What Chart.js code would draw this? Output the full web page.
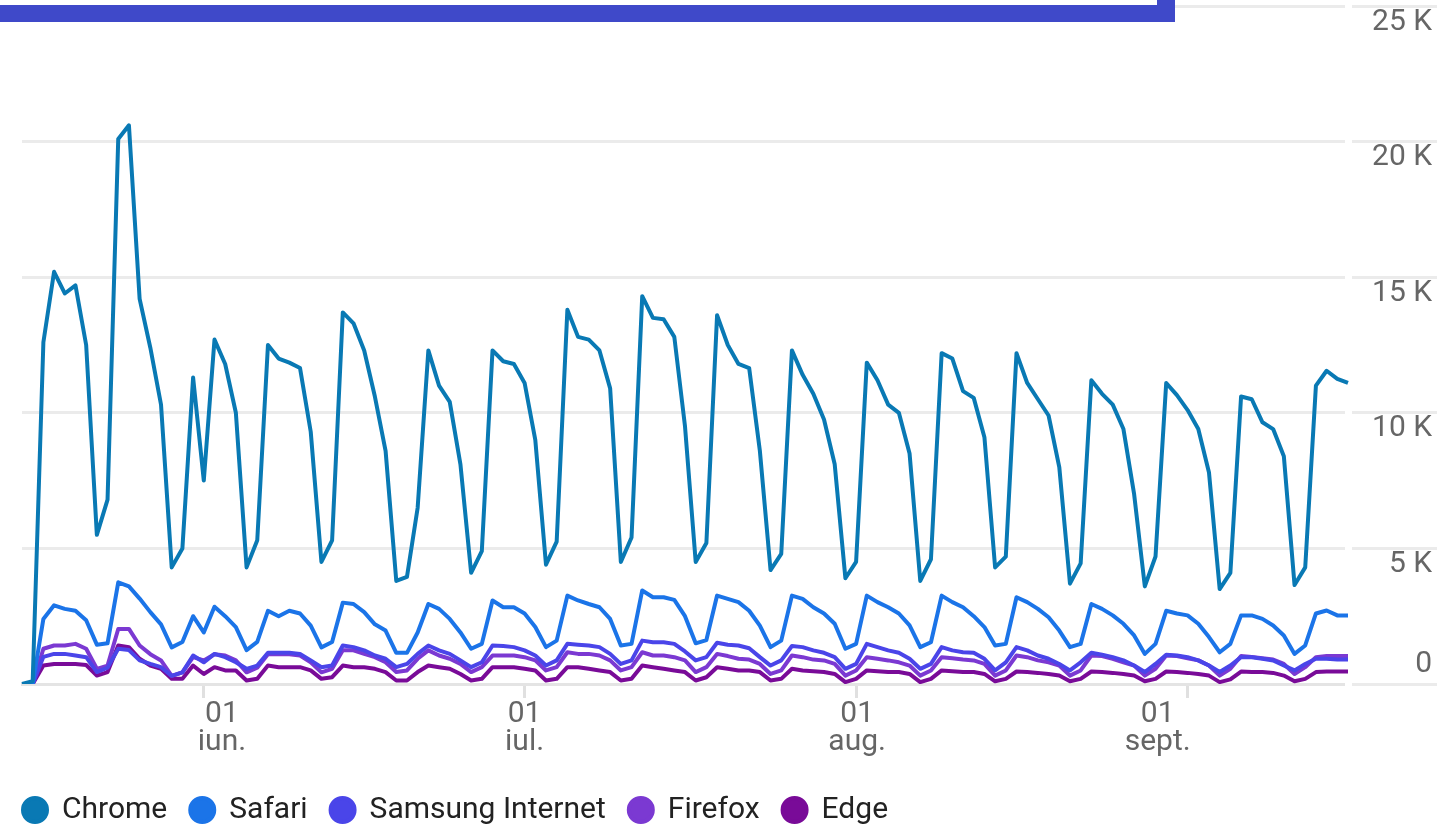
<!DOCTYPE html>
<html>
<head>
<meta charset="utf-8">
<script src="https://cdn.jsdelivr.net/npm/chart.js@4.4.0/dist/chart.umd.min.js"></script>
<style>
html, body { margin: 0; padding: 0; background: #fff; }
#wrap { position: relative; width: 1437px; height: 829px; overflow: hidden; }
.bar { position: absolute; background: #3f49c9; }
</style>
</head>
<body>
<div id="wrap">
  <canvas id="myChart"></canvas>
  <div class="bar" style="left:0;top:5px;width:1175px;height:17px"></div>
  <div class="bar" style="left:1157px;top:0;width:18px;height:22px"></div>
</div>
<script>
// daily users per browser, 15 May - 16 Sep
let chrome = [
  0, 100, 12600, 15200, 14400, 14700, 12500, 5500, 6800, 20100,
  20600, 14200, 12400, 10300, 4300, 5000, 11300, 7500, 12700, 11800,
  10000, 4300, 5300, 12500, 12000, 11850, 11650, 9300, 4500, 5300,
  13700, 13300, 12300, 10600, 8600, 3800, 3950, 6500, 12300, 11000,
  10400, 8100, 4100, 4900, 12300, 11900, 11800, 11100, 9000, 4400,
  5250, 13800, 12800, 12700, 12300, 10900, 4500, 5400, 14300, 13500,
  13450, 12800, 9500, 4500, 5200, 13600, 12500, 11800, 11650, 8600,
  4200, 4800, 12300, 11400, 10700, 9750, 8100, 3900, 4500, 11850,
  11200, 10300, 10000, 8500, 3800, 4600, 12200, 12000, 10800, 10550,
  9100, 4300, 4700, 12200, 11100, 10500, 9900, 8000, 3700, 4450,
  11200, 10700, 10300, 9400, 7000, 3600, 4700, 11100, 10650, 10100,
  9400, 7800, 3500, 4100, 10600, 10500, 9650, 9400, 8400, 3650,
  4300, 11000, 11550, 11250, 11100
];
let safari = [
  0, 0, 2400, 2900, 2770, 2700, 2350, 1450, 1500, 3750,
  3600, 3150, 2650, 2200, 1350, 1550, 2500, 1900, 2850, 2500,
  2100, 1250, 1550, 2700, 2500, 2700, 2600, 2150, 1350, 1550,
  3000, 2950, 2650, 2200, 1970, 1150, 1150, 1900, 2950, 2770,
  2400, 1900, 1300, 1480, 3080, 2830, 2830, 2600, 2100, 1360,
  1600, 3260, 3080, 2950, 2830, 2400, 1420, 1480, 3450, 3200,
  3200, 3100, 2500, 1500, 1620, 3260, 3140, 3020, 2700, 2150,
  1360, 1600, 3260, 3140, 2830, 2600, 2220, 1300, 1480, 3260,
  3020, 2830, 2600, 2160, 1360, 1540, 3260, 3020, 2830, 2500,
  2100, 1420, 1480, 3200, 3020, 2770, 2460, 1970, 1360, 1480,
  2950, 2770, 2530, 2220, 1790, 1110, 1480, 2700, 2600, 2530,
  2220, 1730, 1170, 1480, 2530, 2530, 2400, 2160, 1790, 1110,
  1420, 2600, 2710, 2530, 2530
];
let samsung = [
  0, 0, 1000, 1110, 1110, 1050, 990, 440, 600, 1300,
  1250, 870, 740, 620, 300, 430, 1050, 800, 1110, 990,
  800, 560, 680, 1150, 1150, 1150, 1110, 870, 620, 680,
  1420, 1360, 1240, 1050, 930, 620, 740, 1110, 1420, 1240,
  1110, 870, 620, 800, 1420, 1400, 1360, 1240, 1050, 680,
  870, 1480, 1450, 1420, 1360, 1110, 740, 870, 1600, 1540,
  1540, 1480, 1200, 870, 990, 1520, 1450, 1420, 1320, 990,
  680, 870, 1400, 1360, 1240, 1150, 990, 560, 740, 1480,
  1360, 1240, 1150, 930, 560, 740, 1360, 1240, 1170, 1150,
  930, 500, 800, 1360, 1240, 1050, 930, 740, 500, 800,
  1150, 1080, 990, 870, 680, 440, 740, 1080, 1050, 990,
  870, 680, 440, 680, 990, 990, 930, 870, 680, 500,
  740, 930, 930, 900, 900
];
let firefox = [
  0, 0, 1300, 1420, 1420, 1480, 1300, 560, 680, 2030,
  2030, 1420, 1100, 870, 300, 430, 990, 870, 1100, 1050,
  870, 430, 600, 1100, 1100, 1100, 1050, 800, 430, 560,
  1240, 1240, 1110, 990, 800, 440, 500, 930, 1240, 1050,
  930, 740, 440, 620, 1050, 1050, 1050, 990, 870, 500,
  620, 1170, 1110, 1110, 1050, 870, 500, 620, 1170, 1050,
  1050, 990, 870, 440, 620, 1110, 1030, 930, 900, 740,
  370, 500, 1050, 990, 900, 870, 740, 310, 500, 990,
  930, 870, 800, 680, 310, 500, 990, 950, 900, 870,
  740, 310, 500, 1050, 990, 870, 800, 680, 310, 500,
  1050, 1030, 930, 800, 680, 310, 560, 1050, 1030, 950,
  870, 680, 310, 560, 1030, 1000, 950, 900, 740, 370,
  620, 990, 1030, 1030, 1030
];
let edge = [
  0, 0, 680, 740, 740, 740, 700, 310, 440, 1420,
  1360, 930, 680, 560, 190, 190, 680, 370, 620, 500,
  500, 130, 190, 680, 620, 620, 620, 500, 190, 250,
  680, 620, 620, 560, 440, 130, 130, 440, 680, 620,
  560, 370, 130, 190, 620, 620, 620, 560, 500, 130,
  190, 620, 620, 560, 500, 440, 130, 190, 680, 620,
  560, 500, 440, 130, 250, 620, 560, 500, 500, 440,
  130, 190, 560, 500, 470, 440, 370, 70, 190, 500,
  470, 440, 440, 370, 70, 190, 500, 470, 440, 440,
  370, 100, 190, 460, 440, 410, 370, 310, 100, 190,
  460, 440, 410, 370, 310, 100, 190, 460, 440, 410,
  370, 310, 70, 170, 460, 440, 440, 410, 310, 100,
  190, 440, 460, 460, 460
];

let seriesNames = ['Chrome', 'Safari', 'Samsung Internet', 'Firefox', 'Edge'];
let colorHex = ['#0979b4', '#1b74e8', '#4a45e9', '#7b39d2', '#790b98'];

let tickDays = ['2021-06-01', '2021-07-01', '2021-08-01', '2021-09-01'];
let tickLabels = [['01', 'iun.'], ['01', 'iul.'], ['01', 'aug.'], ['01', 'sept.']];
let yTickLabels = ['0', '5 K', '10 K', '15 K', '20 K', '25 K'];

// one category per day
let days = [];
let start = Date.UTC(2021, 4, 15);
for (let i = 0; i < chrome.length; i++) {
    days.push(new Date(start + i * 86400000).toISOString().slice(0, 10));
}

// the month labels in the original sit a little off their tick marks (in days)
let labelNudge = [1.7, 0, 0.1, -2.8];

Chart.defaults.font.family = 'Roboto';

let allSeries = [chrome, safari, samsung, firefox, edge];

let ctx = document.getElementById('myChart');
let myChart = new Chart(ctx, {
    type: 'line',
    data: {
        labels: days,
        datasets: allSeries.map((values, i) => ({
            label: seriesNames[i],
            data: values,
            borderColor: colorHex[i],
            backgroundColor: colorHex[i],
            borderWidth: 4,
            borderJoinStyle: 'round',
            pointRadius: 0,
            tension: 0,
            xAxisID: 'x',
            yAxisID: 'y'
        }))
    },
    options: {
        responsive: true,
        maintainAspectRatio: false,
        animation: false,
        layout: {
            padding: { top: 6, left: 0, right: 0, bottom: -6 }
        },
        scales: {
            // tick marks at the first of each month
            x: {
                afterBuildTicks: (scale) => {
                    scale.ticks = scale.ticks.filter(t => tickDays.includes(days[t.value]));
                },
                afterFit: (scale) => {
                    scale.height = 14;
                },
                ticks: { display: false, autoSkip: false },
                grid: {
                    drawOnChartArea: false,
                    drawTicks: true,
                    tickLength: 14,
                    color: '#e0e0e0',
                    lineWidth: 3
                },
                border: { color: '#e4e4e4', width: 3 }
            },
            y: {
                position: 'right',
                min: 0,
                max: 25000,
                afterFit: (scale) => {
                    scale.width = 89;
                    scale.paddingTop = 0;
                    scale.paddingBottom = 0;
                },
                ticks: {
                    stepSize: 5000,
                    mirror: true,
                    padding: 84,
                    crossAlign: 'near',
                    labelOffset: -2,
                    color: '#666',
                    font: { size: 30, lineHeight: '36px' },
                    callback: (value) => {
                        let text = yTickLabels[value / 5000];
                        return value === 0 ? [text, ''] : ['', text];
                    }
                },
                grid: {
                    color: '#ebebeb',
                    lineWidth: 3,
                    drawTicks: true,
                    tickLength: 89
                },
                border: { color: '#fff', width: 7 }
            },
            padL: {
                type: 'linear',
                position: 'left',
                display: true,
                grid: { display: false, drawTicks: false },
                ticks: { display: false },
                border: { display: false },
                afterFit: (scale) => {
                    scale.width = 22;
                }
            },
            // month labels
            x2: {
                type: 'linear',
                axis: 'x',
                position: 'bottom',
                min: 0,
                max: days.length - 1,
                afterBuildTicks: (scale) => {
                    scale.ticks = tickDays.map((d, i) => ({ value: days.indexOf(d) + labelNudge[i] }));
                },
                afterFit: (scale) => {
                    scale.height = 74;
                },
                grid: { display: false, drawTicks: false },
                border: { display: false },
                ticks: {
                    autoSkip: false,
                    maxRotation: 0,
                    padding: 2,
                    color: '#666',
                    font: { size: 30, lineHeight: '28px' },
                    callback: (value, index) => tickLabels[index]
                }
            }
        },
        plugins: {
            tooltip: { enabled: false },
            legend: {
                position: 'bottom',
                align: 'start',
                labels: {
                    usePointStyle: true,
                    pointStyle: 'circle',
                    pointStyleWidth: 24,
                    boxHeight: 17,
                    padding: 23,
                    color: '#222',
                    font: { size: 30 }
                }
            }
        }
    }
});
</script>
</body>
</html>
